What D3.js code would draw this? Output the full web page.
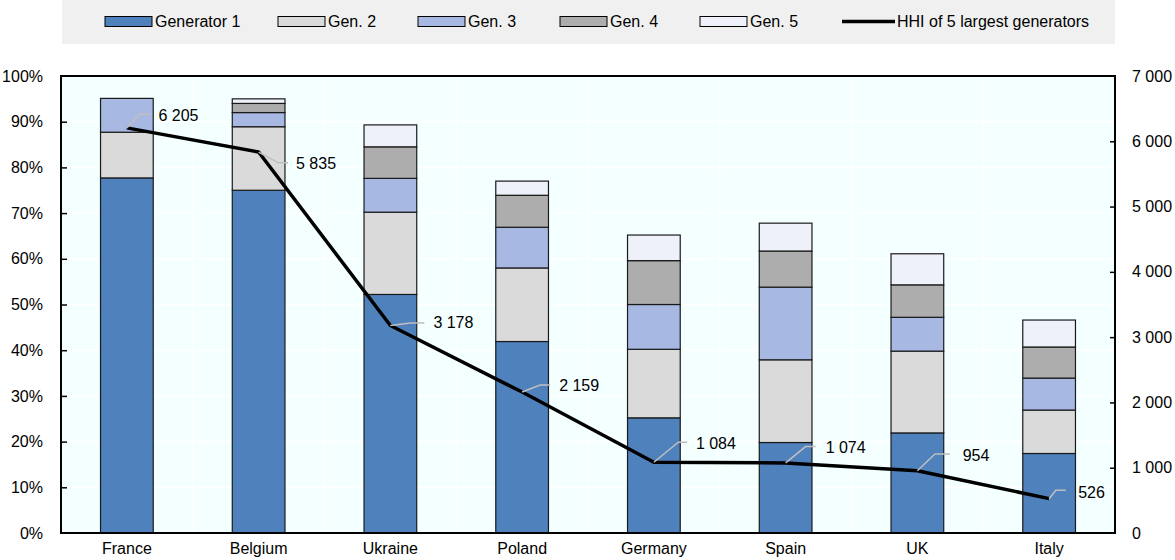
<!DOCTYPE html>
<html>
<head>
<meta charset="utf-8">
<script src="https://cdn.jsdelivr.net/npm/d3@7/dist/d3.min.js"></script>
<style>
  html, body { margin: 0; padding: 0; background: #ffffff; }
  svg { display: block; font-family: "Liberation Sans", Arial, sans-serif; }
</style>
</head>
<body>
<svg id="chart" width="1175" height="560"></svg>
<script>
// Market shares (%) of the five largest generators, by country
const countries = ["France", "Belgium", "Ukraine", "Poland", "Germany", "Spain", "UK", "Italy"];
const gen1 = [77.7, 75.0, 52.2, 41.9, 25.2, 19.8, 21.9, 17.4];
const gen2 = [10.0, 13.9, 18.0, 16.1, 15.0, 18.1, 17.9, 9.5];
const gen3 = [7.4, 3.1, 7.4, 8.9, 9.8, 15.9, 7.4, 7.0];
const gen4 = [0.0, 2.0, 6.9, 7.0, 9.6, 7.9, 7.1, 6.8];
const gen5 = [0.0, 1.0, 4.8, 3.1, 5.6, 6.1, 6.8, 5.9];
// Herfindahl-Hirschman index of the five largest generators
const hhi = [6205, 5835, 3178, 2159, 1084, 1074, 954, 526];

const seriesNames = ["Generator 1", "Gen. 2", "Gen. 3", "Gen. 4", "Gen. 5"];
const lineName = "HHI of 5 largest generators";
const leftTicks = [0, 10, 20, 30, 40, 50, 60, 70, 80, 90, 100];
const rightTicks = [0, 1000, 2000, 3000, 4000, 5000, 6000, 7000];

// Styling
const colors = ["#4F81BD", "#DADADA", "#A7B9E3", "#ADADAD", "#EEF1FA"];
const FONT = 16;
// Leader-line bends and text anchors for HHI labels, relative to each point
const labelOffsets = [
  {bx: 12.6, by: -13.7, hx: 24, tx: 31.6, ty: -13},
  {bx: 19.7, by: 10.8, hx: 29.4, tx: 37.4, ty: 11.5},
  {bx: 20, by: -2.5, hx: 34, tx: 43, ty: -3},
  {bx: 18, by: -7, hx: 28, tx: 37, ty: -6.5},
  {bx: 24.4, by: -20, hx: 33.4, tx: 42, ty: -18.5},
  {bx: 20, by: -16.3, hx: 30, tx: 40, ty: -15},
  {bx: 17.6, by: -16.7, hx: 32.6, tx: 45.3, ty: -15.7},
  {bx: 6.7, by: -8.3, hx: 16.7, tx: 29, ty: -6.6}
];

const svg = d3.select("#chart");
const plot = {left: 61, right: 1115, top: 76, bottom: 533};

const x = d3.scaleBand().domain(countries)
  .range([plot.left, plot.right]).paddingInner(0.6).paddingOuter(0.3);
const yL = d3.scaleLinear().domain([0, 100]).range([plot.bottom, plot.top]);
const yR = d3.scaleLinear().domain([0, 7000]).range([plot.bottom, plot.top]);

// Legend band
svg.append("rect").attr("x", 62).attr("y", 0).attr("width", 1053).attr("height", 44)
  .attr("fill", "#F0F0F0");
const legendX = [105, 278, 418, 560, 700];
seriesNames.forEach((name, i) => {
  const g = svg.append("g");
  g.append("rect").attr("x", legendX[i]).attr("y", 16.5).attr("width", 47).attr("height", 10)
    .attr("fill", colors[i]).attr("stroke", "#000").attr("stroke-width", 1);
  g.append("text").attr("x", legendX[i] + 50).attr("y", 27)
    .attr("font-size", FONT).attr("fill", "#000").text(name);
});
svg.append("line").attr("x1", 842).attr("x2", 895).attr("y1", 21.5).attr("y2", 21.5)
  .attr("stroke", "#000").attr("stroke-width", 3.5);
svg.append("text").attr("x", 897).attr("y", 27).attr("font-size", FONT).attr("fill", "#000").text(lineName);

// Plot background and grid
svg.append("rect").attr("x", plot.left).attr("y", plot.top)
  .attr("width", plot.right - plot.left).attr("height", plot.bottom - plot.top)
  .attr("fill", "#F4FFFF");
const grid = svg.append("g").attr("stroke", "#FFFFFF").attr("stroke-width", 1.5);
leftTicks.slice(1, -1).forEach(t => {
  grid.append("line").attr("x1", plot.left).attr("x2", plot.right)
    .attr("y1", yL(t)).attr("y2", yL(t));
});
countries.slice(1).forEach(c => {
  const bx = x(c) - (x.step() - x.bandwidth()) / 2;
  grid.append("line").attr("x1", bx).attr("x2", bx).attr("y1", plot.top).attr("y2", plot.bottom);
});

// Stacked bars
const rows = countries.map((c, i) => ({
  country: c, g0: gen1[i], g1: gen2[i], g2: gen3[i], g3: gen4[i], g4: gen5[i]
}));
const stack = d3.stack().keys(["g0", "g1", "g2", "g3", "g4"]);
const layers = stack(rows);
layers.forEach((layer, k) => {
  svg.append("g").selectAll("rect")
    .data(layer.filter(d => d[1] - d[0] > 0))
    .join("rect")
    .attr("x", d => x(d.data.country))
    .attr("width", x.bandwidth())
    .attr("y", d => yL(d[1]))
    .attr("height", d => yL(d[0]) - yL(d[1]))
    .attr("fill", colors[k])
    .attr("stroke", "#1a1a1a")
    .attr("stroke-width", 1.2);
});

// Frame and axes
svg.append("rect").attr("x", plot.left).attr("y", plot.top)
  .attr("width", plot.right - plot.left).attr("height", plot.bottom - plot.top)
  .attr("fill", "none").attr("stroke", "#000").attr("stroke-width", 2);

const leftAxis = d3.axisLeft(yL).tickValues(leftTicks).tickSize(-6).tickPadding(19)
  .tickFormat(d => d + "%");
const gl = svg.append("g").attr("transform", `translate(${plot.left},0)`).call(leftAxis);
const rightAxis = d3.axisRight(yR).tickValues(rightTicks).tickSize(-5).tickPadding(17)
  .tickFormat(d => d3.format(",")(d).replace(/,/g, " "));
const gr = svg.append("g").attr("transform", `translate(${plot.right},0)`).call(rightAxis);
const bottomAxis = d3.axisBottom(x).tickSize(0).tickPadding(10);
const gb = svg.append("g").attr("transform", `translate(0,${plot.bottom})`).call(bottomAxis);
[gl, gr, gb].forEach(g => {
  g.select(".domain").remove();
  g.selectAll(".tick line").attr("stroke", "#000").attr("stroke-width", 1.5);
  g.selectAll(".tick text").attr("font-size", FONT).attr("fill", "#000")
    .attr("font-family", "Liberation Sans, Arial, sans-serif");
});
gl.selectAll(".tick text").attr("x", -18);
gl.selectAll(".tick").filter(d => d === 0 || d === 100).select("line").remove();
gr.selectAll(".tick").filter(d => d === 0 || d === 7000).select("line").remove();

// HHI line
const pts = countries.map((c, i) => [x(c) + x.bandwidth() / 2, yR(hhi[i])]);
svg.append("path").datum(pts)
  .attr("d", d3.line())
  .attr("fill", "none").attr("stroke", "#000").attr("stroke-width", 3.5)
  .attr("stroke-linejoin", "round");

// HHI labels with leader lines
const fmt = v => d3.format(",")(v).replace(/,/g, " ");
pts.forEach((p, i) => {
  const o = labelOffsets[i];
  svg.append("polyline")
    .attr("points", [[p[0], p[1]], [p[0] + o.bx, p[1] + o.by], [p[0] + o.hx, p[1] + o.by]].map(q => q.join(",")).join(" "))
    .attr("fill", "none").attr("stroke", "#BFBFBF").attr("stroke-width", 1.5);
  svg.append("text").attr("x", p[0] + o.tx).attr("y", p[1] + o.ty)
    .attr("dy", "0.35em").attr("font-size", FONT).attr("fill", "#000").text(fmt(hhi[i]));
});
</script>
</body>
</html>
